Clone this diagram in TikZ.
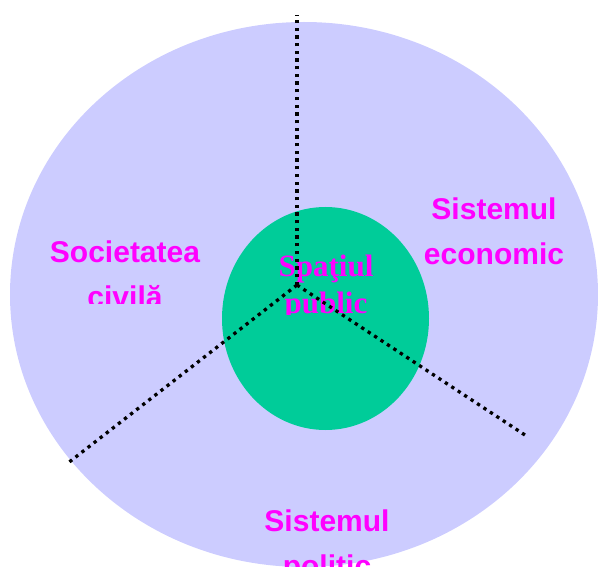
\documentclass[tikz,border=0pt]{standalone}
\usepackage{fontspec}
\setmainfont{Liberation Serif}
\setsansfont{Liberation Sans}
\usetikzlibrary{shapes.geometric}
\definecolor{lavender}{HTML}{CCCCFF}
\definecolor{sea}{HTML}{00CC99}
\definecolor{pink}{HTML}{FF00FF}
\begin{document}
\begin{tikzpicture}[x=1pt,y=-1pt]
  \tikzstyle{sysname}=[text=pink, inner sep=0pt, anchor=base, align=center,
    font=\sffamily\bfseries\fontsize{30}{45}\selectfont]
  \tikzstyle{spacename}=[text=pink, inner sep=0pt, anchor=base, align=center,
    font=\rmfamily\bfseries\fontsize{31}{36}\selectfont]
  \tikzstyle{divider}=[line width=3.3pt, dash pattern=on 3.3pt off 4.4pt]
  \useasboundingbox (0,0) rectangle (598,567);
  \fill[lavender] (304,294.5) ellipse (294 and 272.5);
  \node[ellipse, fill=sea, minimum width=207pt, minimum height=223pt] (public) at (325.5,318.5) {};
  \begin{scope}
    \clip (0,0) rectangle (598,304);
    \node[sysname] (civil) at (125,308) {Societatea\\civilă};
  \end{scope}
  \node[sysname] (econ) at (494,265) {Sistemul\\economic};
  \node[sysname] (polit) at (327,576.5) {Sistemul\\politic};
  \begin{scope}
    \clip (0,0) rectangle (598,315);
    \node[spacename] (space) at (326,313) {Spaţiul\\public};
  \end{scope}
  \coordinate (hub) at (297,285);
  \coordinate (up) at (297,15);
  \coordinate (left) at (68,463);
  \coordinate (right) at (528,437);
  \draw[divider] (hub) -- (up);
  \draw[divider] (hub) -- (left);
  \draw[divider] (hub) -- (right);
\end{tikzpicture}
\end{document}
